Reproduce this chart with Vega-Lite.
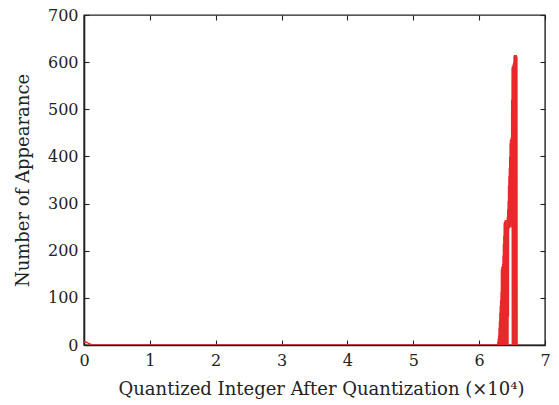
{
  "$schema": "https://vega.github.io/schema/vega-lite/v6.json",
  "width": 461,
  "height": 330,
  "autosize": {"type": "none"},
  "padding": {"left": 84, "top": 15, "right": 14, "bottom": 60},
  "background": "white",
  "config": {
    "view": {"stroke": "#222222", "strokeWidth": 1.4},
    "axis": {
      "domainColor": "#222222",
      "domainWidth": 1.6,
      "tickColor": "#222222",
      "tickWidth": 1.1,
      "tickSize": 5,
      "grid": false,
      "zindex": 1,
      "labelFlush": false,
      "labelFont": "DejaVu Serif",
      "labelFontSize": 16,
      "labelColor": "#222222",
      "titleFont": "DejaVu Serif",
      "titleFontSize": 18,
      "titleFontWeight": "normal",
      "titleColor": "#222222"
    }
  },
  "data": {
    "values": [
      {"x": 0.0, "y": 6}, {"x": 0.02, "y": 7}, {"x": 0.05, "y": 5}, {"x": 0.09, "y": 2}, {"x": 0.13, "y": 0},
      {"x": 3.0, "y": 0}, {"x": 6.2, "y": 0},
      {"x": 6.279, "y": 0}, {"x": 6.282, "y": 0}, {"x": 6.285, "y": 6}, {"x": 6.288, "y": 0},
      {"x": 6.291, "y": 13}, {"x": 6.294, "y": 0}, {"x": 6.297, "y": 20}, {"x": 6.300, "y": 2},
      {"x": 6.303, "y": 36}, {"x": 6.306, "y": 0}, {"x": 6.309, "y": 50}, {"x": 6.312, "y": 5},
      {"x": 6.315, "y": 68}, {"x": 6.318, "y": 0}, {"x": 6.321, "y": 82}, {"x": 6.324, "y": 8},
      {"x": 6.327, "y": 95}, {"x": 6.330, "y": 0}, {"x": 6.333, "y": 112}, {"x": 6.336, "y": 10},
      {"x": 6.339, "y": 160}, {"x": 6.342, "y": 0}, {"x": 6.345, "y": 166}, {"x": 6.348, "y": 12},
      {"x": 6.351, "y": 158}, {"x": 6.354, "y": 0}, {"x": 6.357, "y": 172}, {"x": 6.360, "y": 15},
      {"x": 6.363, "y": 190}, {"x": 6.366, "y": 0}, {"x": 6.369, "y": 215}, {"x": 6.372, "y": 20},
      {"x": 6.375, "y": 232}, {"x": 6.378, "y": 0}, {"x": 6.381, "y": 258}, {"x": 6.384, "y": 18},
      {"x": 6.387, "y": 262}, {"x": 6.390, "y": 0}, {"x": 6.393, "y": 255}, {"x": 6.396, "y": 25},
      {"x": 6.399, "y": 265}, {"x": 6.402, "y": 0}, {"x": 6.405, "y": 150}, {"x": 6.408, "y": 10},
      {"x": 6.411, "y": 138}, {"x": 6.414, "y": 0}, {"x": 6.417, "y": 252}, {"x": 6.420, "y": 30},
      {"x": 6.423, "y": 265}, {"x": 6.426, "y": 0}, {"x": 6.429, "y": 272}, {"x": 6.432, "y": 40},
      {"x": 6.435, "y": 288}, {"x": 6.438, "y": 0}, {"x": 6.441, "y": 305}, {"x": 6.444, "y": 60},
      {"x": 6.447, "y": 338}, {"x": 6.450, "y": 245}, {"x": 6.453, "y": 358}, {"x": 6.456, "y": 250},
      {"x": 6.459, "y": 375}, {"x": 6.462, "y": 248}, {"x": 6.465, "y": 400}, {"x": 6.468, "y": 255},
      {"x": 6.471, "y": 428}, {"x": 6.474, "y": 250}, {"x": 6.477, "y": 436}, {"x": 6.480, "y": 260},
      {"x": 6.483, "y": 432}, {"x": 6.486, "y": 255}, {"x": 6.489, "y": 440}, {"x": 6.492, "y": 270},
      {"x": 6.495, "y": 520}, {"x": 6.498, "y": 250}, {"x": 6.501, "y": 588}, {"x": 6.504, "y": 0},
      {"x": 6.507, "y": 592}, {"x": 6.510, "y": 30}, {"x": 6.513, "y": 585}, {"x": 6.516, "y": 0},
      {"x": 6.519, "y": 596}, {"x": 6.522, "y": 20}, {"x": 6.525, "y": 600}, {"x": 6.528, "y": 0},
      {"x": 6.531, "y": 612}, {"x": 6.534, "y": 40}, {"x": 6.537, "y": 615}, {"x": 6.540, "y": 0},
      {"x": 6.543, "y": 608}, {"x": 6.546, "y": 25}, {"x": 6.549, "y": 614}, {"x": 6.552, "y": 0},
      {"x": 6.555, "y": 610}, {"x": 6.558, "y": 35}, {"x": 6.561, "y": 615}, {"x": 6.564, "y": 0},
      {"x": 6.567, "y": 605}, {"x": 6.570, "y": 20}, {"x": 6.573, "y": 612}, {"x": 6.576, "y": 0},
      {"x": 6.600, "y": 0}
    ]
  },
  "layer": [
    {
      "mark": {"type": "line", "color": "#e8292b", "strokeWidth": 1.5, "clip": true},
      "encoding": {
        "x": {
          "field": "x", "type": "quantitative",
          "scale": {"domain": [0, 7], "nice": false, "zero": false},
          "axis": {"orient": "bottom", "values": [0,1,2,3,4,5,6,7], "ticks": false, "labelPadding": 7, "title": "Quantized Integer After Quantization (×10⁴)", "titlePadding": 12, "titleX": 237}
        },
        "y": {
          "field": "y", "type": "quantitative",
          "scale": {"domain": [0, 700], "nice": false},
          "axis": {"orient": "left", "values": [0,100,200,300,400,500,600,700], "ticks": false, "labelPadding": 6, "title": "Number of Appearance", "titlePadding": 15}
        }
      }
    },
    {
      "mark": {"type": "line", "opacity": 0},
      "encoding": {
        "x": {
          "field": "x", "type": "quantitative",
          "axis": {"orient": "top", "offset": -330, "domain": false, "values": [0,1,2,3,4,5,6,7], "labels": false, "title": null}
        },
        "y": {
          "field": "y", "type": "quantitative",
          "axis": {"orient": "right", "offset": -461, "domain": false, "values": [0,100,200,300,400,500,600,700], "labels": false, "title": null}
        }
      }
    },
    {
      "mark": {"type": "line", "opacity": 0},
      "encoding": {
        "x": {
          "field": "x", "type": "quantitative",
          "axis": {"orient": "bottom", "offset": -330, "domain": false, "values": [0,1,2,3,4,5,6,7], "labels": false, "title": null}
        },
        "y": {
          "field": "y", "type": "quantitative",
          "axis": {"orient": "left", "offset": -461, "domain": false, "values": [0,100,200,300,400,500,600,700], "labels": false, "title": null}
        }
      }
    }
  ],
  "resolve": {"axis": {"x": "independent", "y": "independent"}}
}
